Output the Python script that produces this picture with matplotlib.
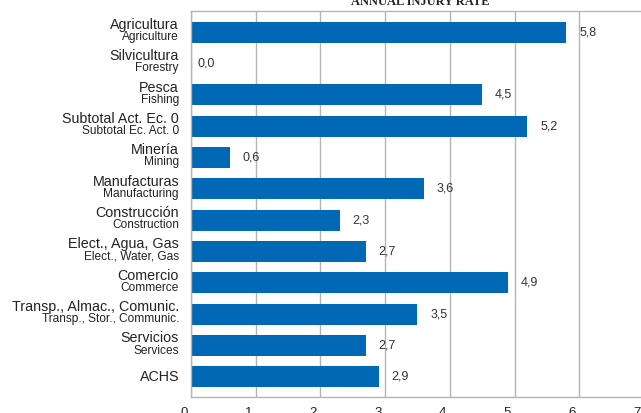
import matplotlib.pyplot as plt
from matplotlib.transforms import ScaledTranslation, blended_transform_factory

# Sector labels (Spanish / English) and annual injury rate
labels_es = ["Agricultura", "Silvicultura", "Pesca", "Subtotal Act. Ec. 0", "Minería",
             "Manufacturas", "Construcción", "Elect., Agua, Gas", "Comercio",
             "Transp., Almac., Comunic.", "Servicios", "ACHS"]
labels_en = ["Agriculture", "Forestry", "Fishing", "Subtotal Ec. Act. 0", "Mining",
             "Manufacturing", "Construction", "Elect., Water, Gas", "Commerce",
             "Transp., Stor., Communic.", "Services", ""]
rates = [5.8, 0.0, 4.5, 5.2, 0.6, 3.6, 2.3, 2.7, 4.9, 3.5, 2.7, 2.9]
xticks = [0, 1, 2, 3, 4, 5, 6, 7]

plt.rcParams['font.family'] = ['Liberation Sans', 'DejaVu Sans']

W, H = 641, 413
fig = plt.figure(figsize=(W / 100, H / 100), dpi=100)
left, right, top, bottom = 191, 191 + 7 * 64.7, 11, 397
ax = fig.add_axes([left / W, 1 - bottom / H, (right - left) / W, (bottom - top) / H])

pos = list(range(len(rates)))
ax.barh(pos, rates, height=0.67, color="#0068b4", zorder=2)
ax.set_xlim(0, 7)
ax.set_ylim(11.64, -0.67)

# value labels
for p, v in zip(pos, rates):
    off = 6 if v == 0 else 13
    ax.annotate(f"{v:.1f}".replace(".", ","), (v, p), xytext=(off * 0.72, 0),
                textcoords="offset points", ha="left", va="center",
                fontsize=9, color="#333333")

# grid and frame
ax.set_xticks(xticks)
ax.grid(axis="x", color="#b4b4b4", linewidth=1, zorder=0)
for s in ["top", "left", "bottom", "right"]:
    ax.spines[s].set_color("#b4b4b4")
    ax.spines[s].set_linewidth(1)
ax.tick_params(axis="x", length=0, pad=7, labelsize=9.5, labelcolor="#222222")
ax.tick_params(axis="y", length=0, labelleft=False)
shift = ScaledTranslation(-7 / 100, 0, fig.dpi_scale_trans)
for lab in ax.get_xticklabels():
    lab.set_transform(lab.get_transform() + shift)

# two-line category labels
tr = blended_transform_factory(fig.transFigure, ax.transData)
xl = 179 / W
for p, es, en in zip(pos, labels_es, labels_en):
    if en:
        ax.text(xl, p - 0.23, es, transform=tr, ha="right", va="center",
                fontsize=10.3, color="#222222")
        ax.text(xl, p + 0.16, en, transform=tr, ha="right", va="center",
                fontsize=8.6, color="#222222")
    else:
        ax.text(xl, p, es, transform=tr, ha="right", va="center",
                fontsize=10.3, color="#222222")

fig.text(420 / W, 1 - 5 / H, "ANNUAL INJURY RATE", ha="center", va="baseline",
         fontsize=9, fontweight="bold", family=["Liberation Serif", "DejaVu Serif"],
         color="#222222")

fig.savefig("out.png", dpi=100)
